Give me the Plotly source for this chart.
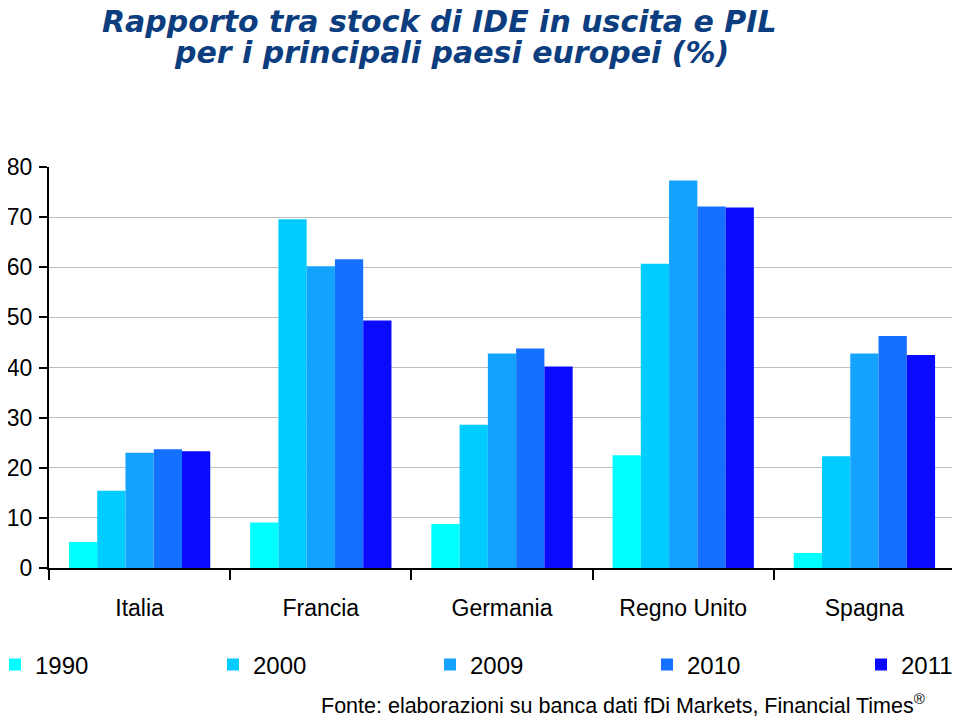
import plotly.graph_objects as go

countries = ["Italia", "Francia", "Germania", "Regno Unito", "Spagna"]
years = ["1990", "2000", "2009", "2010", "2011"]
v1990 = [5.2, 9.1, 8.8, 22.5, 3.0]
v2000 = [15.4, 69.6, 28.6, 60.7, 22.3]
v2009 = [23.0, 60.2, 42.8, 77.3, 42.8]
v2010 = [23.7, 61.6, 43.8, 72.1, 46.3]
v2011 = [23.3, 49.4, 40.2, 71.9, 42.5]
series = [v1990, v2000, v2009, v2010, v2011]
colors = ["#00FFFF", "#00CCFF", "#14A2FF", "#1470FF", "#0A0AFF"]

TXT = "Liberation Sans, Arial"
OFF = 8  # page body margin
W, H = 952, 712
L, T = 49 - OFF, 167 - OFF
PB = 568 - OFF
PR = 955 - OFF
R, B = W - PR, H - PB
PH = PB - T
PW = PR - L

def py(sy):
    return (PB - (sy - OFF)) / PH

def pxx(sx):
    return (sx - OFF - L) / PW

legend_sq = [10, 228, 445, 662, 876]

fig = go.Figure()
for i, (y, vals, c) in enumerate(zip(years, series, colors)):
    lg = "legend" if i == 0 else f"legend{i+1}"
    fig.add_trace(go.Bar(x=countries, y=vals, name=y, legend=lg,
                         marker=dict(color=c, line=dict(width=0))))

layout_legends = {}
for i, sx in enumerate(legend_sq):
    key = "legend" if i == 0 else f"legend{i+1}"
    layout_legends[key] = dict(
        orientation="h", x=pxx(sx - 15), xanchor="left", y=py(665), yanchor="middle",
        font=dict(family=TXT, size=24, color="black"),
        bgcolor="rgba(0,0,0,0)",
    )

fig.update_layout(
    width=W, height=H,
    paper_bgcolor="white", plot_bgcolor="white",
    margin=dict(l=L, r=R, t=T, b=B, autoexpand=False),
    barmode="group", bargap=0.22, bargroupgap=0,
    showlegend=True,
    xaxis=dict(
        showline=True, linecolor="black", linewidth=2,
        ticks="outside", tickson="boundaries", ticklen=10, tickwidth=2, tickcolor="black",
        tickfont=dict(family=TXT, size=23, color="black"),
        ticklabelstandoff=18, automargin=False,
        showgrid=False,
    ),
    yaxis=dict(
        range=[0, 80], dtick=10,
        showline=True, linecolor="black", linewidth=2,
        ticks="outside", ticklen=8, tickwidth=2, tickcolor="black",
        tickfont=dict(family=TXT, size=23, color="black"),
        ticklabelstandoff=2,
        showgrid=True, gridcolor="#BDBDBD", gridwidth=1,
        zeroline=False, automargin=False,
    ),
    **layout_legends,
)

fig.add_shape(type="line", xref="paper", yref="paper", x0=1, x1=1, y0=0, y1=1,
              line=dict(color="#A8A8A8", width=1))

title_font = dict(family="DejaVu Sans", size=30, color="#0B3D7F", weight="bold", style="italic")
fig.add_annotation(text="Rapporto tra stock di IDE in uscita e PIL",
                   xref="paper", yref="paper", x=pxx(439), y=py(21),
                   xanchor="center", yanchor="middle", showarrow=False, font=title_font)
fig.add_annotation(text="per i principali paesi europei (%)",
                   xref="paper", yref="paper", x=pxx(451), y=py(52),
                   xanchor="center", yanchor="middle", showarrow=False, font=title_font)

fig.add_annotation(
    text="Fonte: elaborazioni su banca dati fDi Markets, Financial Times<sup>®</sup>",
    xref="paper", yref="paper", x=pxx(927), xanchor="right",
    y=py(704), yanchor="middle", showarrow=False,
    font=dict(family=TXT, size=21.5, color="black"),
)

fig.write_html("out.html")
